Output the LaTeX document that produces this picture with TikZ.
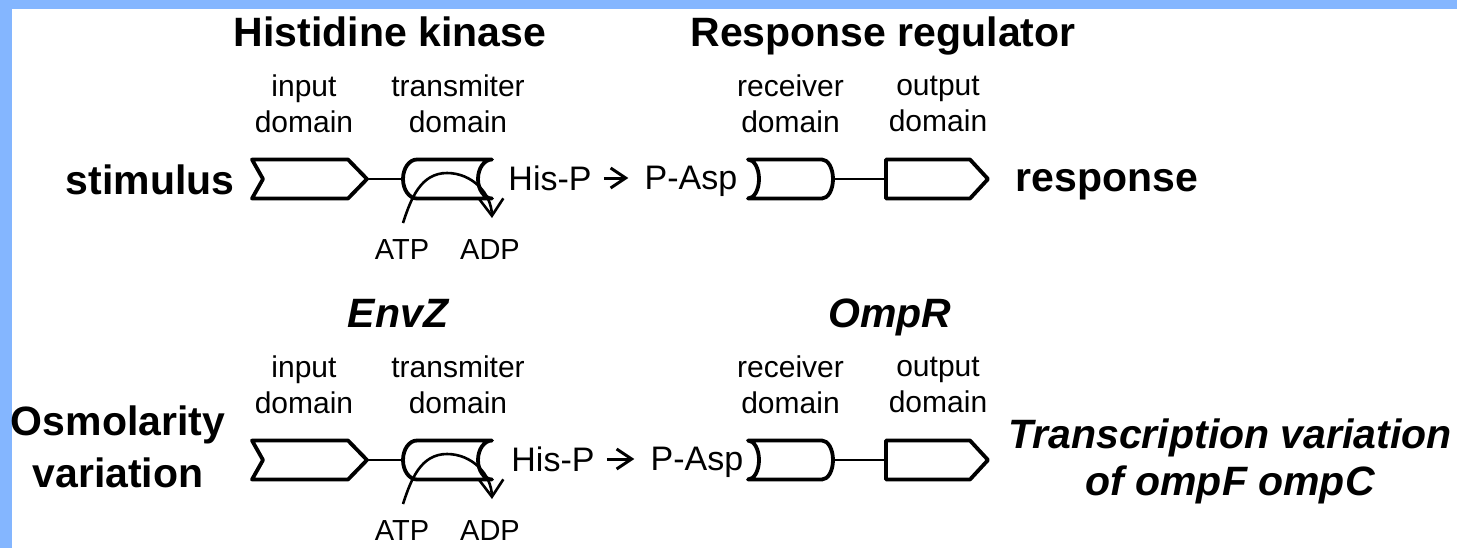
\documentclass[tikz,border=0pt]{standalone}
\usepackage{fontspec}
\setmainfont{Liberation Sans}
\usepackage{tikz}
\usetikzlibrary{arrows.meta,positioning,calc}
\definecolor{frameblue}{HTML}{84B6FF}
\tikzset{
  dom/.style   = {line width=1.9pt, line join=round},
  wire/.style  = {line width=1pt},
  sig/.style   = {-{Straight Barb[length=7.5pt,width=10pt]}, line width=1.5pt,
                  shorten <=6pt, shorten >=8pt},
  kin/.style   = {-{Straight Barb[length=8.5pt,width=12pt]}, line width=1.3pt},
  head/.style  = {font=\fontsize{20.5}{25}\selectfont\bfseries, inner sep=0pt,
                  text depth=0pt, align=center},
  lbl/.style   = {font=\fontsize{15}{18}\selectfont, inner sep=0pt,
                  text depth=0pt, align=center},
  phos/.style  = {font=\fontsize{17}{20}\selectfont, inner sep=0pt, text depth=0pt},
  nuc/.style   = {font=\fontsize{14.5}{17}\selectfont, inner sep=0pt, text depth=0pt},
  pics/inputdom/.style = {code={
    \draw[dom] (-57,19.5) -- (39,19.5) -- (58,0) -- (39,-19.5) -- (-57,-19.5) -- (-46,0) -- cycle;
    \coordinate (-e) at (58,0);
    \node[lbl] (-lbl) at (-5,75.5) {input\\domain};
  }},
  pics/transdom/.style = {code={
    \draw[dom] (-31,19.5) -- (44,19.5)
      arc[start angle=90, end angle=270, x radius=14, y radius=19.5] -- (-31,-19.5)
      arc[start angle=270, end angle=90, x radius=14, y radius=19.5] -- cycle;
    \draw[kin] (-45,-44) to[out=72,in=180] (-1,6) to[out=0,in=92] (44,-39);
    \coordinate (-w) at (-45,0);
    \node[lbl] (-lbl) at (10,75.5) {transmiter\\domain};
    \node[nuc] (-atp) at (-46,-70.5) {ATP};
    \node[nuc] (-adp) at (42,-70.5) {ADP};
  }},
  pics/recvdom/.style = {code={
    \draw[dom] (-42.5,19.5) -- (31.5,19.5)
      arc[start angle=90, end angle=-90, x radius=11, y radius=19.5] -- (-42.5,-19.5)
      arc[start angle=-90, end angle=90, x radius=11, y radius=19.5] -- cycle;
    \coordinate (-e) at (42.5,0);
    \node[lbl] (-lbl) at (0,75.5) {receiver\\domain};
  }},
  pics/outdom/.style = {code={
    \draw[dom] (-51,19.5) -- (33,19.5) -- (51,0) -- (33,-19.5) -- (-51,-19.5) -- cycle;
    \coordinate (-w) at (-51,0);
    \node[lbl] (-lbl) at (1,75.5) {output\\domain};
  }},
}
\begin{document}
\begin{tikzpicture}[x=0.5pt, y=0.5pt]
  \useasboundingbox (0,0) rectangle (1457,-548);
  \fill[white] (0,0) rectangle (1457,-548);
  \fill[frameblue] (0,0) rectangle (1457,-9);
  \fill[frameblue] (0,0) rectangle (12,-548);
  % generic two-component system
  \pic (in1) at (309,-179) {inputdom};
  \pic (tr1) at (448,-179) {transdom};
  \pic (rc1) at (790.5,-179) {recvdom};
  \pic (out1) at (937,-179) {outdom};
  \draw[wire] (in1-e) -- (tr1-w);
  \draw[wire] (rc1-e) -- (out1-w);
  \node[phos] (hp1) at (550,-178) {His-P};
  \node[phos] (pa1) at (691,-178) {P-Asp};
  \draw[sig] (hp1) -- (pa1);
  \node[head] (stim) at (150,-180) {stimulus};
  \node[head] (resp) at (1107,-180) {response};
  \node[head] (hk) at (390,-32) {Histidine kinase};
  \node[head] (rr) at (883,-32) {Response regulator};
  % EnvZ / OmpR
  \pic (in2) at (309,-460) {inputdom};
  \pic (tr2) at (448,-460) {transdom};
  \pic (rc2) at (790.5,-460) {recvdom};
  \pic (out2) at (937,-460) {outdom};
  \draw[wire] (in2-e) -- (tr2-w);
  \draw[wire] (rc2-e) -- (out2-w);
  \node[phos] (hp2) at (553,-459) {His-P};
  \node[phos] (pa2) at (697,-459) {P-Asp};
  \draw[sig] (hp2) -- (pa2);
  \node[head, font=\fontsize{20.5}{26}\selectfont\bfseries] (osm) at (118,-447) {Osmolarity\\variation};
  \node[head, font=\fontsize{20.5}{23.5}\selectfont\bfseries\itshape] (trv) at (1230,-457)
    {Transcription variation\\of ompF ompC};
  \node[head, font=\fontsize{20.5}{25}\selectfont\bfseries\itshape] (envz) at (398,-313) {EnvZ};
  \node[head, font=\fontsize{20.5}{25}\selectfont\bfseries\itshape] (ompr) at (890,-313) {OmpR};
\end{tikzpicture}
\end{document}
